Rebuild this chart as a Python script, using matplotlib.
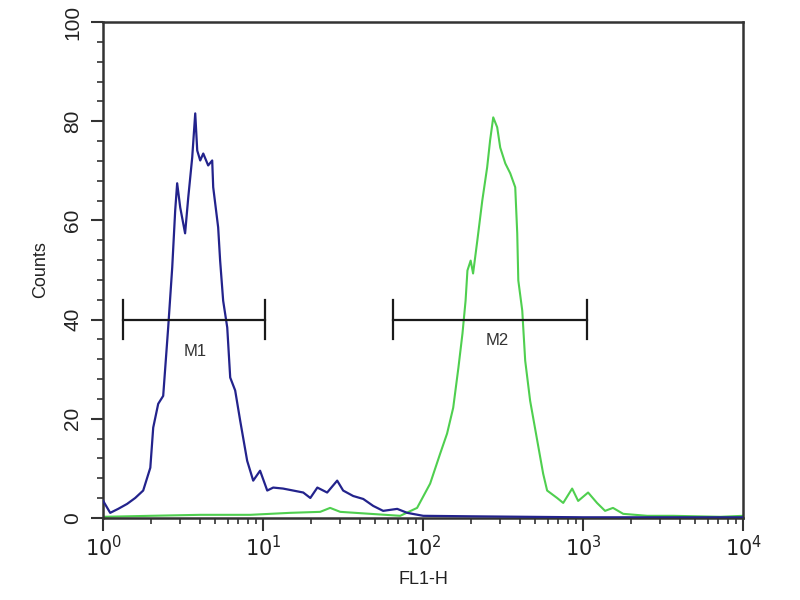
import matplotlib
matplotlib.use("Agg")
import matplotlib.pyplot as plt
from matplotlib.ticker import AutoMinorLocator, LogLocator, MultipleLocator

# ---- data ----
blue_x = [1.0, 1.106, 1.24, 1.41, 1.585, 1.778, 1.97, 2.054, 2.207, 2.371, 2.548, 2.70,
          2.818, 2.899, 3.03, 3.25, 3.40, 3.60, 3.76, 3.87, 4.04, 4.22, 4.53, 4.80,
          4.87, 5.23, 5.38, 5.62, 5.96, 6.22, 6.68, 7.18, 7.94, 8.66, 9.56, 10.6,
          11.55, 13.3, 15.4, 17.8, 19.7, 21.8, 25.1, 29.0, 31.6, 36.5, 42.2, 48.7,
          56.2, 68.8, 79.4, 100, 200, 1000, 10000]
blue_y = [3.4, 1.0, 1.8, 2.8, 4.0, 5.5, 10.1, 18.2, 23.0, 24.6, 38.4, 50.5,
          62.0, 67.5, 62.6, 57.4, 64.6, 72.7, 81.6, 74.1, 72.1, 73.5, 71.1, 72.1,
          66.7, 58.6, 51.9, 43.8, 38.4, 28.3, 25.7, 19.6, 11.5, 7.5, 9.5, 5.5,
          6.1, 5.9, 5.5, 5.1, 4.0, 6.1, 5.1, 7.5, 5.5, 4.4, 3.8, 2.4,
          1.4, 1.8, 1.0, 0.4, 0.3, 0.1, 0.1]

green_x = [1.0, 1.97, 4.04, 8.3, 14.7, 22.7, 26.2, 30.3, 46.7, 71.8, 91.6, 110.5,
           127.5, 141, 154, 166, 176, 184, 189, 198, 205, 218, 234, 251, 262, 274,
           290, 303, 326, 350, 376, 387, 393, 416, 434, 466, 516, 562, 595, 687,
           750, 853, 930, 1073, 1220, 1370, 1535, 1778, 2512, 3652, 7197, 10000]
green_y = [0.2, 0.4, 0.6, 0.6, 1.0, 1.2, 2.0, 1.2, 0.8, 0.4, 2.0, 6.9,
           12.9, 17.0, 22.2, 30.3, 37.2, 43.8, 49.9, 51.9, 49.3, 56.0, 64.0, 70.7, 76.2, 80.8,
           78.8, 74.7, 71.5, 69.5, 66.7, 57.4, 47.9, 41.8, 31.7, 23.6, 15.6, 8.9, 5.5, 4.0,
           3.0, 5.9, 3.4, 5.1, 3.0, 1.4, 2.0, 0.8, 0.4, 0.4, 0.2, 0.4]

marker_names = ["M1", "M2"]
marker_lo = [1.33, 65.1]
marker_hi = [10.2, 1054]
marker_level = 40
marker_label_x = [3.76, 290]
marker_label_y = [33.5, 35.7]

fig = plt.figure(figsize=(8, 6), dpi=100)
ax = fig.add_axes([0.129, 0.137, 0.8, 0.826])

ax.plot(green_x, green_y, color="#4fcf4f", lw=1.5, zorder=2)
ax.plot(blue_x, blue_y, color="#23238c", lw=1.6, zorder=3)

for name, lo, hi, lx, ly in zip(marker_names, marker_lo, marker_hi, marker_label_x, marker_label_y):
    ax.plot([lo, hi], [marker_level, marker_level], color="#1a1a1a", lw=1.6, zorder=4)
    ax.plot([lo, lo], [marker_level - 4, marker_level + 4], color="#1a1a1a", lw=1.6, zorder=4)
    ax.plot([hi, hi], [marker_level - 4, marker_level + 4], color="#1a1a1a", lw=1.6, zorder=4)
    ax.text(lx, ly, name, ha="center", va="center", fontsize=12, color="#333333",
            family="Liberation Sans")

ax.set_xscale("log")
ax.set_xlim(1, 10000)
ax.set_ylim(0, 100)
ax.yaxis.set_major_locator(MultipleLocator(20))
ax.yaxis.set_minor_locator(AutoMinorLocator(5))
ax.xaxis.set_major_locator(LogLocator(base=10, numticks=10))
ax.xaxis.set_minor_locator(LogLocator(base=10, subs=range(2, 10), numticks=20))

for sp in ax.spines.values():
    sp.set_color("#333333")
    sp.set_linewidth(1.8)

ax.tick_params(axis="both", which="major", direction="out", length=9, width=1.5,
               color="#333333", labelsize=15, labelcolor="#222222")
ax.tick_params(axis="y", which="major", pad=6)
ax.tick_params(axis="both", which="minor", direction="out", length=4, width=1.2, color="#333333")
for lab in ax.get_yticklabels():
    lab.set_rotation(90)
    lab.set_va("center")
    lab.set_family("Liberation Sans")

ax.set_xlabel("FL1-H", fontsize=13, color="#222222", family="Liberation Sans", labelpad=8)
ax.set_ylabel("Counts", fontsize=13, color="#222222", family="Liberation Sans", labelpad=10)

fig.savefig("out.png", dpi=100, facecolor="white")
